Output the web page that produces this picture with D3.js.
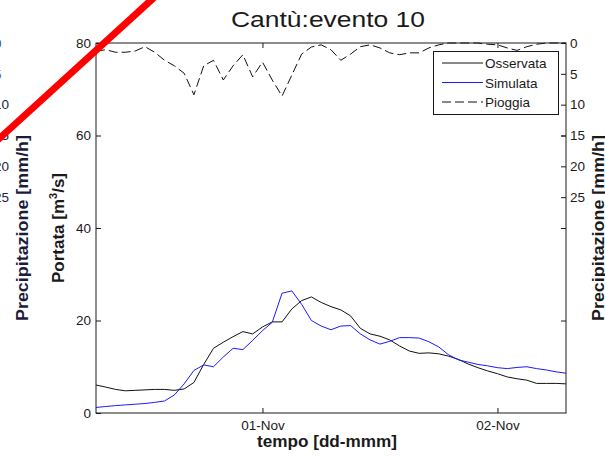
<!DOCTYPE html>
<html>
<head>
<meta charset="utf-8">
<script src="https://cdn.jsdelivr.net/npm/d3@7"></script>
<style>
  html, body { margin: 0; padding: 0; background: #fff; }
  svg { display: block; font-family: "Liberation Sans", Arial, sans-serif; }
</style>
</head>
<body>
<svg id="chart" width="605" height="458"></svg>
<script>
// Hourly timestamps of the event (31 Oct 07:00 -> 2 Nov 07:00)
const times = [
  "2010-10-31 07:00","2010-10-31 08:00","2010-10-31 09:00","2010-10-31 10:00","2010-10-31 11:00",
  "2010-10-31 12:00","2010-10-31 13:00","2010-10-31 14:00","2010-10-31 15:00","2010-10-31 16:00",
  "2010-10-31 17:00","2010-10-31 18:00","2010-10-31 19:00","2010-10-31 20:00","2010-10-31 21:00",
  "2010-10-31 22:00","2010-10-31 23:00","2010-11-01 00:00","2010-11-01 01:00","2010-11-01 02:00",
  "2010-11-01 03:00","2010-11-01 04:00","2010-11-01 05:00","2010-11-01 06:00","2010-11-01 07:00",
  "2010-11-01 08:00","2010-11-01 09:00","2010-11-01 10:00","2010-11-01 11:00","2010-11-01 12:00",
  "2010-11-01 13:00","2010-11-01 14:00","2010-11-01 15:00","2010-11-01 16:00","2010-11-01 17:00",
  "2010-11-01 18:00","2010-11-01 19:00","2010-11-01 20:00","2010-11-01 21:00","2010-11-01 22:00",
  "2010-11-01 23:00","2010-11-02 00:00","2010-11-02 01:00","2010-11-02 02:00","2010-11-02 03:00",
  "2010-11-02 04:00","2010-11-02 05:00","2010-11-02 06:00","2010-11-02 07:00"
];

// Observed discharge [m3/s]
const osservata = [6.05,5.6,5.1,4.8,4.9,5.0,5.1,5.1,4.9,5.2,6.6,10.5,14.0,15.3,16.5,17.6,17.1,18.6,19.7,19.7,
  22.5,24.3,25.1,23.9,23.0,22.3,21.0,18.3,17.1,16.6,15.8,14.5,13.4,12.9,13.0,12.8,12.3,11.6,10.6,9.8,
  9.1,8.5,7.8,7.4,7.1,6.4,6.4,6.4,6.3];

// Simulated discharge [m3/s]
const simulata = [1.2,1.4,1.6,1.75,1.9,2.05,2.3,2.6,3.9,6.3,9.2,10.4,10.0,12.1,14.0,13.7,15.7,17.8,19.6,25.9,
  26.4,23.5,20.0,18.8,18.0,18.8,18.9,17.1,15.8,14.9,15.5,16.3,16.3,16.2,15.4,14.3,12.6,11.5,11.0,10.5,
  10.2,9.8,9.6,9.85,10.0,9.6,9.3,8.9,8.6];

// Rainfall intensity [mm/h]
const pioggia = [1.3,1.1,1.5,1.5,1.3,0.6,1.5,2.8,3.7,4.9,8.4,3.7,2.8,6.0,3.7,1.9,5.5,3.1,6.0,8.6,
  5.2,1.8,0.65,0.3,1.1,2.8,1.8,0.6,0.3,0.8,1.6,1.9,1.6,1.6,0.8,0.3,0,0,0,0,
  0.2,0.3,0.8,1.2,0.6,0.2,0,0,0];

const dayTicks = ["2010-11-01 00:00","2010-11-02 00:00"];
const portataTicks = [0,20,40,60,80];
const pioggiaTicks = [0,5,10,15,20,25];

const titleText = "Cantù:evento 10";
const xLabel = "tempo [dd-mmm]";
const rainLabel = "Precipitazione [mm/h]";
const legendItems = [
  {name: "Osservata", color: "#000", dash: null},
  {name: "Simulata", color: "#0000ff", dash: null},
  {name: "Pioggia", color: "#000", dash: "9,4"}
];

const parse = d3.timeParse("%Y-%m-%d %H:%M");
const T = times.map(parse);

const svg = d3.select("#chart");
const W = 605, H = 458;
const L = 96, R = 566, TOP = 43, BOT = 413;
const ink = "#1a1a1a";
const fs = 13.5;

svg.append("rect").attr("width", W).attr("height", H).attr("fill", "#fff");

const x = d3.scaleTime().domain([T[0], T[T.length - 1]]).range([L, R]);
const yL = d3.scaleLinear().domain([0, 80]).range([BOT, TOP]);
const yR = d3.scaleLinear().domain([0, 60]).range([TOP, BOT]);

function styleAxis(g) {
  g.select(".domain").remove();
  g.selectAll(".tick line").attr("stroke", ink);
  g.selectAll(".tick text").attr("fill", ink).attr("font-size", fs)
    .attr("font-family", "'Liberation Sans', Arial, sans-serif");
}

// right-hand rainfall axis; also reused for the neighbouring panel's axis at the left edge
function rainAxis(offset, colors) {
  const g = svg.append("g").attr("transform", `translate(${R + offset},0)`)
    .call(d3.axisRight(yR).tickValues(pioggiaTicks).tickSize(-5).tickPadding(4).tickFormat(d3.format("d")))
    .call(styleAxis);
  if (colors) g.selectAll(".tick text").attr("fill", (d, i) => colors[i]);
  svg.append("text")
    .attr("transform", `translate(${604 + offset},${(TOP + BOT) / 2}) rotate(-90)`)
    .attr("text-anchor", "middle")
    .attr("font-size", 17).attr("font-weight", "bold")
    .attr("textLength", 186).attr("lengthAdjust", "spacingAndGlyphs")
    .attr("fill", colors ? "#1c1c3a" : ink)
    .text(rainLabel);
  return g;
}

// partial axis of the adjacent panel
rainAxis(-576, ["#3550c8", "#5566c4", "#22244a", "#22243a", "#22243a", "#22243a"]);

// series lines
const line = ys => d3.line().x((d, i) => x(T[i])).y(d => ys(d));

svg.append("path").datum(pioggia)
  .attr("d", line(yR)).attr("fill", "none")
  .attr("stroke", "#111").attr("stroke-width", 1).attr("stroke-dasharray", "9,4");

svg.append("path").datum(osservata)
  .attr("d", line(yL)).attr("fill", "none")
  .attr("stroke", "#111").attr("stroke-width", 1);

svg.append("path").datum(simulata)
  .attr("d", line(yL)).attr("fill", "none")
  .attr("stroke", "#1a1aff").attr("stroke-width", 1);

// axes
svg.append("g").attr("transform", `translate(${L},0)`)
  .call(d3.axisLeft(yL).tickValues(portataTicks).tickSize(-5).tickPadding(5))
  .call(styleAxis);

svg.append("g").attr("transform", `translate(${R},0)`)
  .call(d3.axisRight(yL).tickValues(portataTicks.slice(1, 4)).tickSize(-5).tickFormat(""))
  .call(styleAxis);

rainAxis(0, null);

svg.append("g").attr("transform", `translate(0,${BOT})`)
  .call(d3.axisBottom(x).tickValues(dayTicks.map(parse)).tickSize(-5).tickPadding(7)
    .tickFormat(d3.timeFormat("%d-%b")))
  .call(styleAxis);

svg.append("g").attr("transform", `translate(0,${TOP})`)
  .call(d3.axisTop(x).tickValues(dayTicks.map(parse)).tickSize(-5).tickFormat(""))
  .call(styleAxis);

// box
svg.append("rect").attr("x", L).attr("y", TOP).attr("width", R - L).attr("height", BOT - TOP)
  .attr("fill", "none").attr("stroke", ink).attr("stroke-width", 1);

// legend
const leg = svg.append("g");
leg.append("rect").attr("x", 433.5).attr("y", 51.5).attr("width", 125).attr("height", 63)
  .attr("fill", "#fff").attr("stroke", ink);
legendItems.forEach((it, i) => {
  const cy = 63 + i * 19.5;
  leg.append("line").attr("x1", 442).attr("x2", 483).attr("y1", cy).attr("y2", cy)
    .attr("stroke", it.color === "#000" ? "#111" : "#1a1aff")
    .attr("stroke-dasharray", it.dash);
  leg.append("text").attr("x", 485).attr("y", cy + 5)
    .attr("font-size", fs).attr("fill", ink).text(it.name);
});

// titles
svg.append("text").attr("x", 328).attr("y", 27).attr("text-anchor", "middle")
  .attr("font-size", 22).attr("fill", ink)
  .attr("textLength", 194).attr("lengthAdjust", "spacingAndGlyphs")
  .text(titleText);

svg.append("text").attr("x", 327).attr("y", 447).attr("text-anchor", "middle")
  .attr("font-size", 17).attr("font-weight", "bold").attr("fill", ink)
  .attr("textLength", 140).attr("lengthAdjust", "spacingAndGlyphs")
  .text(xLabel);

const yl = svg.append("text")
  .attr("transform", `translate(64,${(TOP + BOT) / 2}) rotate(-90)`)
  .attr("text-anchor", "middle")
  .attr("font-size", 17).attr("font-weight", "bold").attr("fill", ink);
yl.append("tspan").text("Portata [m");
yl.append("tspan").attr("font-size", 11).attr("dy", -7).text("3");
yl.append("tspan").attr("dy", 7).text("/s]");

// red strike drawn across the top-left corner
svg.append("line").attr("x1", -10).attr("y1", 147).attr("x2", 170).attr("y2", -17)
  .attr("stroke", "#ff0000").attr("stroke-width", 7);
</script>
</body>
</html>
